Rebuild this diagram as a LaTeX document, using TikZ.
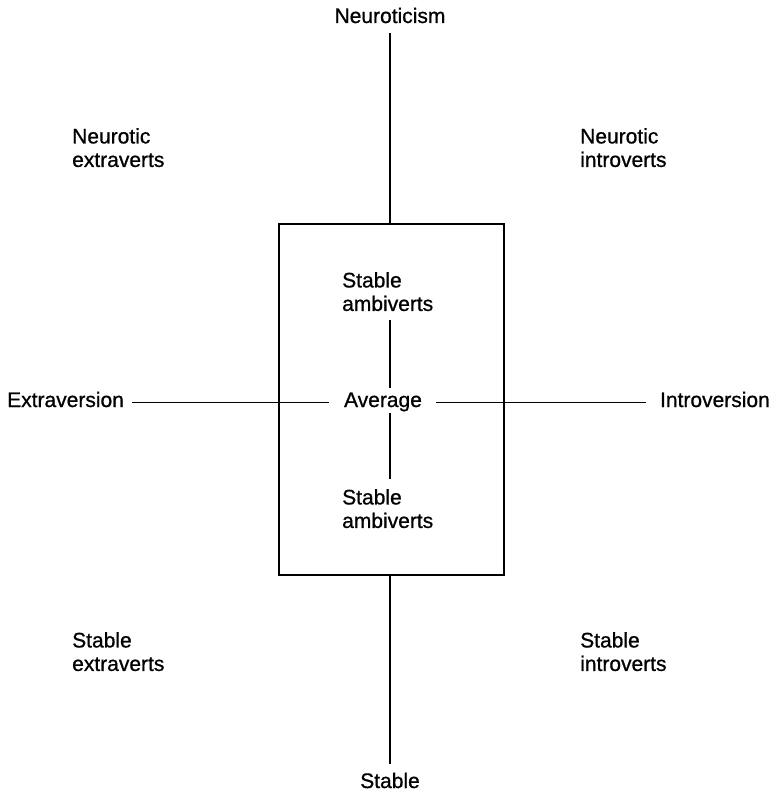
\documentclass[tikz,border=0pt]{standalone}
\usepackage{fontspec}
\setmainfont{Liberation Sans}
\newfontfamily\labfont[FakeBold=0.8]{Liberation Sans}
\begin{document}
\begin{tikzpicture}[x=1pt,y=-1pt,
  lbl/.style={inner sep=0pt, font=\labfont\fontsize{21}{23.5}\selectfont},
  multi/.style={lbl, align=left},
  ln/.style={line width=1.7pt}]
\useasboundingbox (0,0) rectangle (773,792);
\node[lbl, anchor=base] (neu) at (390,23) {Neuroticism};
\node[lbl, anchor=base] (stab) at (390,788) {Stable};
\node[lbl, anchor=base west] (ext) at (7,407) {Extraversion};
\node[lbl, anchor=base east] (intro) at (770,407) {Introversion};
\node[lbl, anchor=base] (avg) at (383,407) {Average};
\node[multi, anchor=north west] (ne) at (72,128) {Neurotic\\extraverts};
\node[multi, anchor=north west] (ni) at (580,128) {Neurotic\\introverts};
\node[multi, anchor=north west] (se) at (72,632) {Stable\\extraverts};
\node[multi, anchor=north west] (si) at (580,632) {Stable\\introverts};
\node[multi, anchor=north west] (sa1) at (342,272) {Stable\\ambiverts};
\node[multi, anchor=north west] (sa2) at (342,489) {Stable\\ambiverts};
\node[draw, ln, minimum width=225pt, minimum height=351pt, inner sep=0pt] (box) at (391.5,399.5) {};
\draw[ln, shorten <=10pt] (neu.south) -- (box.north -| neu.south);
\draw[ln, shorten >=9pt] (box.south -| neu.south) -- (stab.north -| neu.south);
\draw[ln, shorten <=8pt, shorten >=15pt] ([yshift=2pt]ext.mid east) -- ([yshift=2pt]avg.mid west);
\draw[ln, shorten <=14pt, shorten >=14pt] ([yshift=2pt]avg.mid east) -- ([yshift=2pt]intro.mid west);
\draw[ln, shorten <=9pt, shorten >=4pt] (sa1.south -| neu.south) -- (avg.north -| neu.south);
\draw[ln, shorten <=1pt, shorten >=10pt] (avg.south -| neu.south) -- (sa2.north -| neu.south);
\end{tikzpicture}
\end{document}
